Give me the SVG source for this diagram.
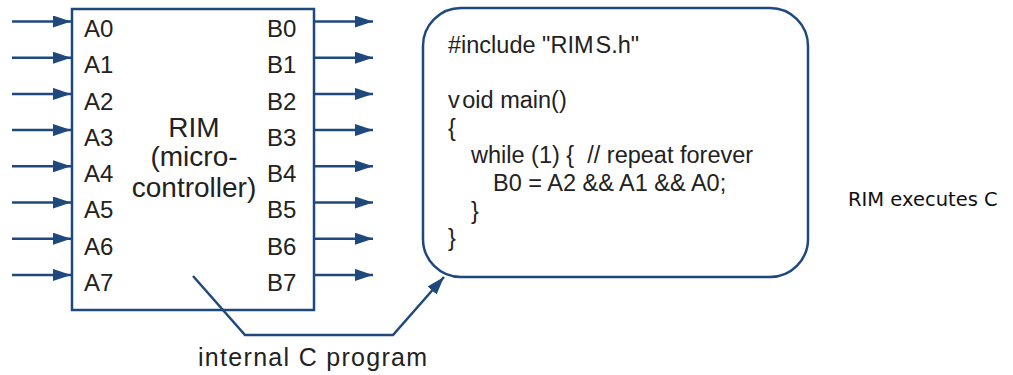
<svg xmlns="http://www.w3.org/2000/svg" width="1013" height="375" viewBox="0 0 1013 375">
  <style>
    .wire { stroke: #1f497d; stroke-width: 2.5; fill: none; }
    .box { stroke: #1f497d; stroke-width: 2.5; fill: #ffffff; }
    .pin { font-family: "Liberation Sans", Arial, sans-serif; font-size: 24px; fill: #222222; }
    .title { font-family: "Liberation Sans", Arial, sans-serif; font-size: 28px; fill: #222222; text-anchor: middle; }
    .code { font-family: "Liberation Sans", Arial, sans-serif; font-size: 23.5px; fill: #222222; white-space: pre; }
    .caption { font-family: "Liberation Sans", Arial, sans-serif; font-size: 25px; letter-spacing: 1.3px; fill: #222222; }
    .note { font-family: "DejaVu Sans", Verdana, sans-serif; font-size: 19.5px; fill: #111111; }
  </style>
  <defs>
    <marker id="head" viewBox="0 0 18 12" refX="18" refY="6" markerWidth="18" markerHeight="12" markerUnits="userSpaceOnUse" orient="auto">
      <path d="M0,0 L18,6 L0,12 Z" fill="#1f497d"/>
    </marker>
  </defs>

  <rect width="1013" height="375" fill="#ffffff"/>

  <!-- pin wires -->
  <g id="connectors">
    <line class="wire" x1="12" y1="21.5" x2="71" y2="21.5" marker-end="url(#head)"/>
    <line class="wire" x1="12" y1="57.7" x2="71" y2="57.7" marker-end="url(#head)"/>
    <line class="wire" x1="12" y1="93.9" x2="71" y2="93.9" marker-end="url(#head)"/>
    <line class="wire" x1="12" y1="130.1" x2="71" y2="130.1" marker-end="url(#head)"/>
    <line class="wire" x1="12" y1="166.3" x2="71" y2="166.3" marker-end="url(#head)"/>
    <line class="wire" x1="12" y1="202.5" x2="71" y2="202.5" marker-end="url(#head)"/>
    <line class="wire" x1="12" y1="238.7" x2="71" y2="238.7" marker-end="url(#head)"/>
    <line class="wire" x1="12" y1="274.9" x2="71" y2="274.9" marker-end="url(#head)"/>

    <line class="wire" x1="314" y1="21.5" x2="373" y2="21.5" marker-end="url(#head)"/>
    <line class="wire" x1="314" y1="57.7" x2="373" y2="57.7" marker-end="url(#head)"/>
    <line class="wire" x1="314" y1="93.9" x2="373" y2="93.9" marker-end="url(#head)"/>
    <line class="wire" x1="314" y1="130.1" x2="373" y2="130.1" marker-end="url(#head)"/>
    <line class="wire" x1="314" y1="166.3" x2="373" y2="166.3" marker-end="url(#head)"/>
    <line class="wire" x1="314" y1="202.5" x2="373" y2="202.5" marker-end="url(#head)"/>
    <line class="wire" x1="314" y1="238.7" x2="373" y2="238.7" marker-end="url(#head)"/>
    <line class="wire" x1="314" y1="274.9" x2="373" y2="274.9" marker-end="url(#head)"/>
  </g>

  <!-- microcontroller block -->
  <g id="rim">
    <rect class="box" x="72" y="9" width="242" height="301"/>
    <text class="pin" x="84" y="37">A0</text>
    <text class="pin" x="84" y="73">A1</text>
    <text class="pin" x="84" y="110">A2</text>
    <text class="pin" x="84" y="146">A3</text>
    <text class="pin" x="84" y="182">A4</text>
    <text class="pin" x="84" y="218">A5</text>
    <text class="pin" x="84" y="255">A6</text>
    <text class="pin" x="84" y="291">A7</text>
    <text class="pin" x="267" y="37">B0</text>
    <text class="pin" x="267" y="73">B1</text>
    <text class="pin" x="267" y="110">B2</text>
    <text class="pin" x="267" y="146">B3</text>
    <text class="pin" x="267" y="182">B4</text>
    <text class="pin" x="267" y="218">B5</text>
    <text class="pin" x="267" y="255">B6</text>
    <text class="pin" x="267" y="291">B7</text>
    <text class="title" x="194" y="137">RIM</text>
    <text class="title" x="194" y="166">(micro-</text>
    <text class="title" x="194" y="197">controller)</text>
  </g>

  <!-- program listing -->
  <g id="program">
    <rect class="box" x="423" y="8" width="385" height="269" rx="38" ry="38"/>
    <text class="code" x="448" y="53">#include "RIM<tspan dx="2">S.h"</tspan></text>
    <text class="code" x="448" y="108">v<tspan dx="2.5">oid main()</tspan></text>
    <text class="code" x="448" y="136">{</text>
    <text class="code" x="471" y="163">while (1) {  // repeat forever</text>
    <text class="code" x="493" y="191">B0 = A2 &amp;&amp; A1 &amp;&amp; A0;</text>
    <text class="code" x="471" y="219">}</text>
    <text class="code" x="448" y="246">}</text>
  </g>

  <!-- link from the block to its program -->
  <g id="program-link">
    <polyline class="wire" points="193,276 245,335 393,335 444,277" marker-end="url(#head)"/>
    <text class="caption" x="198" y="366">internal C program</text>
  </g>

  <g id="note">
    <text class="note" x="848" y="206">RIM executes C</text>
  </g>
</svg>
